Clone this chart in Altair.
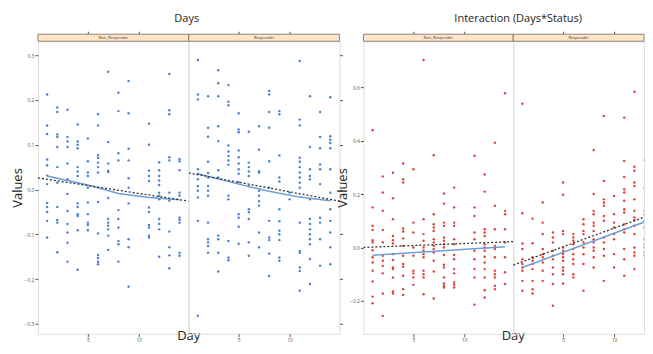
import altair as alt
import pandas as pd

DAYS = list(range(1, 15))
STATUS = ["Non_Responder", "Responder"]
TITLES = ["Days", "Interaction (Days*Status)"]

# ---- "Days" model: values per day (day 1 .. 14) ----
days_non = [
    [0.212, 0.143, 0.124, 0.067, 0.054, 0.031, 0.012, -0.030, -0.039, -0.050, -0.070, -0.107],
    [0.183, 0.173, 0.123, 0.117, 0.095, 0.050, 0.015, -0.039, -0.068, -0.074, -0.140],
    [0.178, 0.117, 0.107, 0.095, 0.058, 0.023, -0.010, -0.048, -0.077, -0.096, -0.119, -0.161],
    [0.145, 0.107, 0.100, 0.092, 0.050, 0.040, 0.030, -0.031, -0.039, -0.055, -0.059, -0.091, -0.179],
    [0.114, 0.063, 0.038, 0.030, 0.004, -0.029, -0.055, -0.074, -0.079, -0.091],
    [0.168, 0.143, 0.077, 0.071, 0.060, 0.050, 0.038, -0.028, -0.098, -0.146, -0.153, -0.161, -0.167],
    [0.263, 0.106, 0.058, 0.042, 0.039, -0.019, -0.066, -0.074, -0.081, -0.089, -0.103, -0.135],
    [0.216, 0.175, 0.081, 0.065, -0.046, -0.066, -0.085, -0.115, -0.122, -0.161],
    [0.242, 0.170, 0.091, 0.065, 0.025, 0.004, -0.031, -0.111, -0.129, -0.217],
    [],
    [0.147, 0.100, 0.042, 0.030, 0.019, -0.040, -0.050, -0.079, -0.085, -0.103, -0.107],
    [0.061, 0.043, 0.030, 0.020, 0.010, -0.007, -0.014, -0.022, -0.066, -0.077, -0.089, -0.150],
    [0.258, 0.177, 0.168, 0.072, 0.065, -0.007, -0.025, -0.094, -0.129, -0.147, -0.176],
    [0.068, 0.063, 0.043, -0.007, -0.014, -0.063, -0.068, -0.074, -0.141, -0.148],
]
days_resp = [
    [0.289, 0.212, 0.201, 0.045, 0.035, 0.023, 0.008, -0.003, -0.018, -0.070, -0.282],
    [0.208, 0.138, 0.118, 0.062, 0.037, 0.027, 0.008, -0.003, -0.014, -0.074, -0.111, -0.118, -0.126, -0.141],
    [0.266, 0.237, 0.208, 0.141, 0.108, 0.043, 0.027, -0.103, -0.111, -0.141, -0.183],
    [0.233, 0.196, 0.188, 0.098, 0.085, 0.075, 0.065, 0.055, -0.014, -0.022, -0.115, -0.152, -0.158],
    [0.170, 0.134, 0.128, 0.087, 0.072, 0.058, 0.045, 0.035, 0.016, -0.055, -0.063, -0.083, -0.121],
    [0.129, 0.060, 0.050, 0.040, 0.030, 0.008, -0.044, -0.051, -0.066, -0.118, -0.148],
    [0.141, 0.089, 0.041, 0.038, -0.003, -0.014, -0.026, -0.036, -0.096, -0.129],
    [0.220, 0.212, 0.173, 0.138, 0.063, 0.004, -0.070, -0.107, -0.113, -0.143, -0.193],
    [0.175, 0.168, 0.076, 0.027, 0.018, -0.044, -0.071, -0.092, -0.100, -0.113, -0.152, -0.159],
    [-0.007, -0.022],
    [0.287, 0.156, 0.143, 0.071, 0.062, 0.050, 0.038, 0.027, 0.015, 0.004, -0.074, -0.137, -0.141, -0.174, -0.182, -0.226],
    [0.208, 0.095, 0.045, 0.030, 0.023, -0.022, -0.066, -0.077, -0.089, -0.100, -0.111, -0.122, -0.155, -0.211],
    [0.173, 0.117, 0.092, 0.056, 0.045, 0.012, -0.063, -0.074, -0.111, -0.170],
    [0.206, 0.119, 0.111, 0.104, 0.092, 0.045, -0.007, -0.044, -0.070, -0.096, -0.129, -0.167],
]

# ---- "Interaction (Days*Status)" model ----
inter_non = [
    [0.439, 0.150, 0.081, 0.065, 0.027, 0.019, -0.010, -0.037, -0.056, -0.087, -0.127, -0.184, -0.209],
    [0.266, 0.206, 0.137, 0.065, 0.019, -0.031, -0.050, -0.069, -0.097, -0.172, -0.256],
    [0.280, 0.184, 0.106, 0.043, 0.027, 0.015, -0.025, -0.047, -0.075, -0.081, -0.112, -0.165, -0.172],
    [0.314, 0.255, 0.243, 0.071, 0.060, 0.034, 0.006, -0.031, -0.062, -0.072, -0.106, -0.156, -0.178],
    [0.293, 0.093, 0.056, 0.000, -0.031, -0.087, -0.097, -0.112, -0.140],
    [0.702, 0.106, 0.050, 0.025, 0.000, -0.012, -0.025, -0.037, -0.087, -0.100, -0.112, -0.175],
    [0.345, 0.124, 0.087, 0.075, 0.062, 0.031, 0.019, 0.006, -0.006, -0.019, -0.050, -0.090, -0.191],
    [0.202, 0.164, 0.093, 0.081, 0.037, 0.025, 0.012, 0.000, -0.028, -0.065, -0.075, -0.112, -0.135, -0.143, -0.150],
    [0.224, 0.150, 0.093, 0.081, 0.031, 0.012, -0.028, -0.044, -0.081, -0.097, -0.131, -0.140, -0.150],
    [],
    [0.343, 0.150, 0.118, 0.056, 0.031, -0.012, -0.044, -0.081, -0.112, -0.214],
    [0.273, 0.209, 0.068, 0.056, 0.043, 0.012, 0.000, -0.012, -0.035, -0.056, -0.081, -0.112, -0.160, -0.187],
    [0.392, 0.156, 0.068, 0.006, -0.006, -0.037, -0.087, -0.100, -0.112, -0.143, -0.156],
    [0.577, 0.137, 0.124, 0.068, 0.019, -0.037, -0.093, -0.137],
]
inter_resp = [
    [0.538, 0.128, 0.015, -0.006, -0.044, -0.062, -0.075, -0.087, -0.125, -0.162],
    [0.108, 0.016, -0.037, -0.050, -0.062, -0.081, -0.125, -0.156, -0.172],
    [0.168, 0.093, 0.050, -0.006, -0.025, -0.037, -0.056, -0.087, -0.125],
    [0.056, 0.037, 0.019, -0.012, -0.031, -0.044, -0.075, -0.100, -0.137, -0.218],
    [0.243, 0.197, 0.062, 0.050, 0.000, -0.012, -0.025, -0.037, -0.050, -0.075, -0.087, -0.100, -0.135],
    [0.050, 0.037, 0.025, 0.012, -0.006, -0.025, -0.044, -0.062, -0.100, -0.112],
    [0.106, 0.087, 0.062, 0.050, 0.019, 0.000, -0.025, -0.062, -0.162],
    [0.365, 0.200, 0.137, 0.124, 0.093, 0.081, 0.062, 0.031, 0.019, 0.000, -0.012, -0.037, -0.075],
    [0.492, 0.249, 0.180, 0.168, 0.156, 0.118, 0.100, 0.037, 0.019, -0.006, -0.031, -0.125],
    [0.193, 0.124, 0.093, 0.075, 0.050, 0.031, -0.025, -0.075],
    [0.486, 0.324, 0.264, 0.218, 0.206, 0.175, 0.143, 0.131, 0.087, 0.068, 0.056, -0.006, -0.044, -0.106],
    [0.583, 0.302, 0.287, 0.243, 0.230, 0.180, 0.137, 0.112, 0.102, 0.081, 0.050, 0.000, -0.019, -0.031, -0.081],
    [0.327, 0.222, 0.137, 0.124, 0.100, 0.075, 0.031, 0.012, 0.000, -0.019, -0.031],
    [],
]

# fitted (solid) and reference (dotted) lines
days_non_fit_x = [1, 5, 8, 11, 14]
days_non_fit_y = [0.030, 0.010, -0.009, -0.018, -0.023]
days_non_ref_x = [0.1, 14.9]
days_non_ref_y = [0.026, -0.026]
days_resp_fit_x = [1, 5, 8, 11, 14]
days_resp_fit_y = [0.035, 0.012, -0.004, -0.017, -0.025]
days_resp_ref_x = [0.1, 14.9]
days_resp_ref_y = [0.037, -0.026]

inter_non_fit_x = [1, 14]
inter_non_fit_y = [-0.029, 0.003]
inter_non_ref_x = [0.1, 14.9]
inter_non_ref_y = [0.0, 0.022]
inter_resp_fit_x = [1, 14.5]
inter_resp_fit_y = [-0.075, 0.117]
inter_resp_ref_x = [0.1, 14.5]
inter_resp_ref_y = [-0.066, 0.135]

X_TICKS = [5, 10]
DAYS_Y_TICKS = [-0.3, -0.2, -0.1, 0.0, 0.1, 0.2, 0.3]
INTER_Y_TICKS = [-0.2, 0.0, 0.2, 0.4, 0.6]

BLUE = "#4a82cc"
RED = "#e2403a"
FIT = "#6d9ddb"
GREY = "#555555"
H = 293


def make_panel(cols, fit_x, fit_y, ref_x, ref_y, color, xdom, ydom, w, strip,
               yticks=None, right_ticks=None, day_label=False, title=None, title_x=0):
    pts = pd.DataFrame([{"Day": d, "Value": v} for d, vals in zip(DAYS, cols) for v in vals])
    xs = alt.Scale(domain=xdom, nice=False, zero=False)
    ys = alt.Scale(domain=ydom, nice=False, zero=False)
    xax = alt.Axis(values=X_TICKS, title=None, format="d", labelFontSize=5, labelColor=GREY,
                   tickColor=GREY, tickSize=3, labelPadding=1, domain=False, grid=False)
    if yticks is not None:
        yax = alt.Axis(values=yticks, title="Values", format=".1f", labelFontSize=5,
                       labelColor=GREY, tickColor=GREY, tickSize=3, labelPadding=1,
                       domain=False, grid=False, titleFontSize=13, titleFontWeight="normal",
                       titleColor="#222222", titlePadding=0)
    else:
        yax = None
    layers = []
    strip_df = pd.DataFrame({"label": [strip]})
    layers.append(alt.Chart(strip_df).mark_rect(fill="#ffe5cc", stroke="#8a7560", strokeWidth=0.9).encode(
        x=alt.value(0), x2=alt.value(w), y=alt.value(-7), y2=alt.value(0)))
    layers.append(alt.Chart(strip_df).mark_text(fontSize=4, color="#333333", baseline="middle").encode(
        x=alt.value(w / 2), y=alt.value(-3.5), text="label:N"))
    layers.append(alt.Chart(pts).mark_circle(size=6, color=color, opacity=1, clip=True).encode(
        x=alt.X("Day:Q", scale=xs, axis=xax),
        y=alt.Y("Value:Q", scale=ys, axis=yax)))
    layers.append(alt.Chart(pd.DataFrame({"Day": fit_x, "Value": fit_y})).mark_line(
        color=FIT, strokeWidth=1.5, clip=True).encode(
        x=alt.X("Day:Q", scale=xs, axis=None), y=alt.Y("Value:Q", scale=ys, axis=None)))
    layers.append(alt.Chart(pd.DataFrame({"Day": ref_x, "Value": ref_y})).mark_line(
        color="#333333", strokeWidth=1.3, strokeDash=[2, 2], clip=True).encode(
        x=alt.X("Day:Q", scale=xs, axis=None), y=alt.Y("Value:Q", scale=ys, axis=None)))
    top_y = None
    if right_ticks is not None:
        top_y = alt.Axis(orient="right", values=right_ticks, labels=False, title=None,
                         domain=False, grid=False, tickSize=3, tickColor=GREY)
    layers.append(alt.Chart(pts).mark_circle(opacity=0, clip=True).encode(
        x=alt.X("Day:Q", scale=xs, axis=alt.Axis(orient="top", values=X_TICKS, labels=False,
                                                 title=None, domain=False, grid=False,
                                                 tickSize=3, offset=7, tickColor=GREY)),
        y=alt.Y("Value:Q", scale=ys, axis=top_y)))
    if day_label:
        layers.append(alt.Chart(pd.DataFrame({"t": ["Day"]})).mark_text(
            fontSize=13, color="#222222", baseline="middle").encode(
            x=alt.value(w), y=alt.value(H + 2), text="t:N"))
    if title is not None:
        layers.append(alt.Chart(pd.DataFrame({"t": [title]})).mark_text(
            fontSize=11, color="#222222", baseline="middle").encode(
            x=alt.value(title_x), y=alt.value(-22), text="t:N"))
    ch = alt.layer(*layers).resolve_axis(x="independent", y="independent").properties(width=w, height=H)
    return ch


DAYS_YDOM = [-0.322, 0.331]
INTER_YDOM = [-0.323, 0.772]

p1 = make_panel(days_non, days_non_fit_x, days_non_fit_y, days_non_ref_x, days_non_ref_y,
                BLUE, [0.1, 14.9], DAYS_YDOM, 151, STATUS[0], yticks=DAYS_Y_TICKS,
                day_label=True, title=TITLES[0], title_x=149)
p2 = make_panel(days_resp, days_resp_fit_x, days_resp_fit_y, days_resp_ref_x, days_resp_ref_y,
                BLUE, [0.1, 14.9], DAYS_YDOM, 151, STATUS[1], right_ticks=DAYS_Y_TICKS)
p3 = make_panel(inter_non, inter_non_fit_x, inter_non_fit_y, inter_non_ref_x, inter_non_ref_y,
                RED, [0.1, 14.8], INTER_YDOM, 150, STATUS[0], yticks=INTER_Y_TICKS,
                day_label=True, title=TITLES[1], title_x=155)
p4 = make_panel(inter_resp, inter_resp_fit_x, inter_resp_fit_y, inter_resp_ref_x, inter_resp_ref_y,
                RED, [0.1, 12.94], INTER_YDOM, 131, STATUS[1])

spacer = alt.Chart(pd.DataFrame({"a": [0]}), view=alt.ViewBackground(stroke="transparent")).mark_point(
    opacity=0).encode(x=alt.value(0), y=alt.value(0)).properties(width=24, height=H)

chart = alt.hconcat(p1, p2, spacer, p3, p4, spacing=0, bounds="flush").properties(
    padding={"left": 2, "top": 4, "right": 0, "bottom": 0}
).configure_view(stroke=GREY, strokeWidth=1.2).configure(font="Open Sans")

chart.save("out.html", embed_options={"renderer": "svg", "actions": False})
